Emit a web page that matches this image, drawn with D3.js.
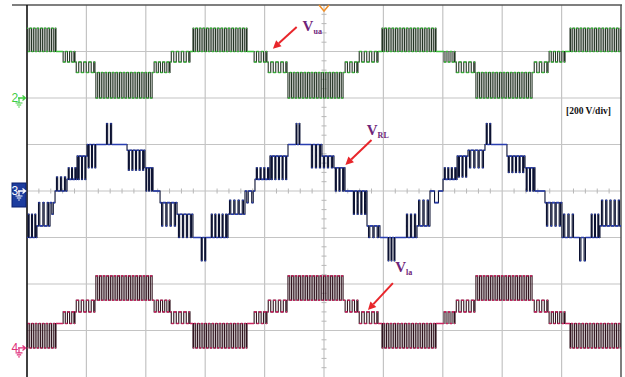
<!DOCTYPE html>
<html><head><meta charset="utf-8">
<script src="https://cdn.jsdelivr.net/npm/d3@7"></script>
<style>html,body{margin:0;padding:0;background:#fff;} svg{display:block;}</style>
</head><body>
<script>
// time axis in ms (5 ms/div, 10 div), voltage axis 200 V/div (8 div)
const timeDomain = [0, 50];
const voltDomain = [-800, 800];
const timeGrid = [0, 5, 10, 15, 20, 25, 30, 35, 40, 45, 50];
const voltGrid = [-800, -600, -400, -200, 0, 200, 400, 600, 800];
const scaleLabel = "[200 V/div]";
const channelNames = ["2", "3", "4"];
const channelOffsets = [400, 0, -675]; // ground marker positions (V on screen)
const pulseDuty = [0.5, 0.3, 0.5];     // share of each pulse period spent at pulse level

// [tStart ms, tEnd ms, resting level V, pulse level V, pulse count]
const vuaSteps = [
  [0.00, 2.44, 300, 200, 8],
  [2.44, 2.95, 200, 200, 0],
  [2.95, 4.04, 200, 155, 3],
  [4.04, 5.72, 155, 110, 4],
  [5.72, 10.61, 110, 0, 16],
  [10.61, 12.04, 110, 155, 4],
  [12.04, 13.72, 155, 200, 4],
  [13.72, 13.97, 200, 200, 0],
  [13.97, 18.52, 300, 200, 15],
  [18.52, 19.02, 200, 200, 0],
  [19.02, 20.20, 200, 155, 3],
  [20.20, 21.89, 155, 110, 4],
  [21.89, 26.68, 110, 0, 16],
  [26.68, 27.86, 110, 155, 3],
  [27.86, 29.55, 155, 200, 4],
  [29.55, 29.88, 200, 200, 0],
  [29.88, 34.43, 300, 200, 15],
  [34.43, 35.02, 200, 200, 0],
  [35.02, 36.03, 200, 155, 3],
  [36.03, 37.71, 155, 110, 4],
  [37.71, 42.59, 110, 0, 16],
  [42.59, 43.86, 110, 155, 3],
  [43.86, 45.29, 155, 200, 4],
  [45.29, 45.71, 200, 200, 0],
  [45.71, 50.00, 300, 200, 14]
];

const vrlSteps = [
  [0.00, 0.84, -200, -100, 3],
  [0.84, 1.94, -150, -50, 3],
  [1.94, 2.36, -50, -100, 1],
  [2.36, 3.37, 0, 60, 3],
  [3.37, 4.21, 50, 100, 3],
  [4.21, 5.05, 150, 50, 3],
  [5.05, 5.89, 200, 100, 3],
  [5.89, 6.57, 200, 200, 0],
  [6.57, 7.24, 200, 290, 2],
  [7.24, 8.42, 200, 200, 0],
  [8.42, 9.93, 175, 90, 5],
  [9.93, 10.61, 100, 0, 3],
  [10.61, 11.20, 0, 0, 0],
  [11.20, 12.63, -50, -150, 4],
  [12.63, 13.97, -100, -200, 4],
  [13.97, 14.56, -200, -200, 0],
  [14.56, 15.15, -200, -300, 2],
  [15.15, 15.40, -200, -200, 0],
  [15.40, 16.92, -200, -100, 5],
  [16.92, 18.35, -100, -40, 4],
  [18.35, 19.19, 0, -50, 2],
  [19.19, 20.45, 50, 100, 4],
  [20.45, 21.97, 150, 50, 5],
  [21.97, 22.56, 200, 200, 0],
  [22.56, 23.06, 200, 290, 2],
  [23.06, 23.82, 200, 200, 0],
  [23.82, 24.83, 200, 100, 3],
  [24.83, 25.84, 150, 100, 3],
  [25.84, 26.77, 100, 0, 3],
  [26.77, 27.36, 0, 0, 0],
  [27.36, 28.62, 0, -100, 4],
  [28.62, 29.71, -150, -200, 3],
  [29.71, 30.30, -200, -200, 0],
  [30.30, 31.06, -200, -300, 3],
  [31.06, 31.82, -200, -200, 0],
  [31.82, 32.83, -200, -100, 3],
  [32.83, 33.92, -150, -40, 3],
  [33.92, 35.02, 0, -50, 1],
  [35.02, 36.20, 50, 100, 4],
  [36.20, 37.12, 150, 60, 3],
  [37.12, 38.55, 175, 100, 4],
  [38.55, 39.14, 200, 290, 2],
  [39.14, 40.40, 200, 200, 0],
  [40.40, 41.92, 150, 80, 5],
  [41.92, 42.76, 100, 0, 3],
  [42.76, 43.60, 0, 0, 0],
  [43.60, 45.03, -50, -150, 4],
  [45.03, 46.13, -200, -100, 3],
  [46.13, 46.38, -200, -200, 0],
  [46.38, 47.14, -200, -300, 2],
  [47.14, 47.39, -200, -200, 0],
  [47.39, 48.23, -200, -100, 3],
  [48.23, 50.00, -150, -40, 5]
];

const vlaSteps = [
  [0.00, 2.44, 0, 105, 8],
  [2.44, 2.95, 105, 105, 0],
  [2.95, 4.04, 105, 155, 3],
  [4.04, 5.72, 155, 205, 4],
  [5.72, 10.61, 205, 310, 16],
  [10.61, 12.04, 205, 155, 4],
  [12.04, 13.72, 155, 105, 4],
  [13.72, 13.97, 105, 105, 0],
  [13.97, 18.52, 0, 105, 15],
  [18.52, 19.02, 105, 105, 0],
  [19.02, 20.20, 105, 155, 3],
  [20.20, 21.89, 155, 205, 4],
  [21.89, 26.68, 205, 310, 16],
  [26.68, 27.86, 205, 155, 3],
  [27.86, 29.55, 155, 105, 4],
  [29.55, 29.88, 105, 105, 0],
  [29.88, 34.43, 0, 105, 15],
  [34.43, 35.02, 105, 105, 0],
  [35.02, 36.03, 105, 155, 3],
  [36.03, 37.71, 155, 205, 4],
  [37.71, 42.59, 205, 310, 16],
  [42.59, 43.86, 205, 155, 3],
  [43.86, 45.29, 155, 105, 4],
  [45.29, 45.71, 105, 105, 0],
  [45.71, 50.00, 0, 105, 14]
];

// annotation labels: [main, subscript, text time ms, text volt V, arrow tail t,v, arrow head t,v]
const labels = [
  ["V", "ua", 23.2, 690, 22.7, 705, 20.7, 612],
  ["V", "RL", 28.6, 243, 29.0, 219, 26.8, 112],
  ["V", "la", 31.0, -350, 30.8, -396, 28.7, -512]
];

const W = 625, H = 377;
const svg = d3.select("body").append("svg").attr("width", W).attr("height", H);
const x = d3.scaleLinear().domain(timeDomain).range([27, 621]);
const y = d3.scaleLinear().domain(voltDomain).range([377, 5]);

// grid
const g = svg.append("g");
g.selectAll("line.v").data(timeGrid.slice(1, -1)).join("line")
  .attr("x1", d => x(d)).attr("x2", d => x(d)).attr("y1", y(800)).attr("y2", H)
  .attr("stroke", "#c4c4c4").attr("stroke-width", 1.2);
g.selectAll("line.h").data(voltGrid.slice(1, -1)).join("line")
  .attr("x1", x(0)).attr("x2", x(50)).attr("y1", d => y(d)).attr("y2", d => y(d))
  .attr("stroke", "#c4c4c4").attr("stroke-width", 1.2);
// minor ticks on center lines
g.selectAll("line.mt").data(d3.range(1, 50).filter(t => t % 5 !== 0)).join("line")
  .attr("x1", d => x(d)).attr("x2", d => x(d)).attr("y1", y(0) - 2.5).attr("y2", y(0) + 2.5)
  .attr("stroke", "#b8b8b8").attr("stroke-width", 1);
g.selectAll("line.mv").data(d3.range(-800, 801, 40).filter(v => v % 200 !== 0)).join("line")
  .attr("x1", x(25) - 2.5).attr("x2", x(25) + 2.5).attr("y1", d => y(d)).attr("y2", d => y(d))
  .attr("stroke", "#b8b8b8").attr("stroke-width", 1);
// borders
svg.append("line").attr("x1", 12).attr("x2", x(50) + 1).attr("y1", y(800)).attr("y2", y(800))
  .attr("stroke", "#555").attr("stroke-width", 1.5);
svg.append("line").attr("x1", x(50)).attr("x2", x(50)).attr("y1", y(800)).attr("y2", H)
  .attr("stroke", "#555").attr("stroke-width", 1.5);
svg.append("line").attr("x1", x(0)).attr("x2", x(0)).attr("y1", y(800)).attr("y2", H)
  .attr("stroke", "#111").attr("stroke-width", 1.6);
// trigger marker
svg.append("path").attr("d", `M${x(25)-5},${y(800)}L${x(25)},${y(800)+6}L${x(25)+5},${y(800)}`)
  .attr("fill", "none").attr("stroke", "#f0902a").attr("stroke-width", 1.5);

function buildPoints(steps, offset, duty) {
  const pts = [];
  steps.forEach(([t0, t1, base, alt, n]) => {
    pts.push([t0, base + offset]);
    if (n > 0) {
      const p = (t1 - t0) / n;
      for (let k = 0; k < n; k++) {
        const s = t0 + (k + (1 - duty) / 2) * p, e = s + duty * p;
        pts.push([s, alt + offset]);
        pts.push([e, base + offset]);
      }
    }
  });
  const last = steps[steps.length - 1];
  pts.push([last[1], last[2] + offset]);
  return pts;
}

svg.append("clipPath").attr("id", "clip").append("rect")
  .attr("x", x(0)).attr("y", 0).attr("width", x(50) - x(0)).attr("height", H);

function drawTrace(pts, colH, colV) {
  const line = d3.line().x(d => x(d[0])).y(d => y(d[1])).curve(d3.curveStepAfter);
  const tg = svg.append("g").attr("clip-path", "url(#clip)");
  tg.append("path").attr("d", line(pts)).attr("fill", "none")
    .attr("stroke", colV).attr("stroke-width", 1.1);
  let d = "";
  for (let i = 0; i < pts.length - 1; i++) {
    d += `M${x(pts[i][0])},${y(pts[i][1])}H${x(pts[i + 1][0])}`;
  }
  tg.append("path").attr("d", d).attr("fill", "none")
    .attr("stroke", colH).attr("stroke-width", 1.6);
}

drawTrace(buildPoints(vuaSteps, channelOffsets[0], pulseDuty[0]), "#3cbf3c", "#253425");
drawTrace(buildPoints(vrlSteps, channelOffsets[1], pulseDuty[1]), "#2a3fb0", "#0c1232");
drawTrace(buildPoints(vlaSteps, channelOffsets[2], pulseDuty[2]), "#cc2662", "#30141e");

// channel markers
function groundMarker(name, off, col, boxed) {
  const yy = y(off);
  const mg = svg.append("g");
  if (boxed) {
    mg.append("rect").attr("x", 12).attr("y", yy - 8).attr("width", 14).attr("height", 24)
      .attr("fill", "#1d3d9e").attr("stroke", "#0b1f6e");
  }
  const c = boxed ? "#ffffff" : col;
  mg.append("text").attr("x", 11.5).attr("y", yy + 4).text(name)
    .attr("font-family", "Arial, Liberation Sans, sans-serif").attr("font-size", 12).attr("fill", c);
  mg.append("path").attr("d", `M18,${yy}H25M22.5,${yy-2.5}L25.5,${yy}L22.5,${yy+2.5}`)
    .attr("stroke", c).attr("fill", "none").attr("stroke-width", 1.3);
  mg.append("path").attr("d", `M19,${yy}V${yy+5}M15.5,${yy+5}H22.5M16.8,${yy+7}H21.2M18.2,${yy+9}H19.8`)
    .attr("stroke", c).attr("fill", "none").attr("stroke-width", 1.2);
}
groundMarker(channelNames[0], channelOffsets[0], "#3fcc3f", false);
groundMarker(channelNames[1], channelOffsets[1], "#ffffff", true);
groundMarker(channelNames[2], channelOffsets[2], "#e0307a", false);

// annotations
labels.forEach(([m, sub, tt, tv, at, av, ht, hv]) => {
  const tx = svg.append("text").attr("x", x(tt)).attr("y", y(tv))
    .attr("font-family", "Liberation Serif, Times New Roman, serif").attr("font-weight", "bold")
    .attr("fill", "#6e2479");
  tx.append("tspan").text(m).attr("font-size", 15);
  tx.append("tspan").text(sub).attr("font-size", 8).attr("dy", 3);
  const x1 = x(at), y1 = y(av), x2 = x(ht), y2 = y(hv);
  const ang = Math.atan2(y2 - y1, x2 - x1), L = 8, Wd = 4;
  const bx = x2 - L * Math.cos(ang), by = y2 - L * Math.sin(ang);
  svg.append("line").attr("x1", x1).attr("y1", y1).attr("x2", bx).attr("y2", by)
    .attr("stroke", "#e8262b").attr("stroke-width", 2);
  svg.append("path").attr("d",
    `M${x2},${y2}L${bx + Wd * Math.sin(ang)},${by - Wd * Math.cos(ang)}L${bx - Wd * Math.sin(ang)},${by + Wd * Math.cos(ang)}Z`)
    .attr("fill", "#e8262b");
});

svg.append("text").attr("x", 566).attr("y", 114).text(scaleLabel)
  .attr("font-family", "Liberation Serif, Times New Roman, serif").attr("font-weight", "bold")
  .attr("font-size", 9.5).attr("fill", "#111");
</script>
</body></html>
